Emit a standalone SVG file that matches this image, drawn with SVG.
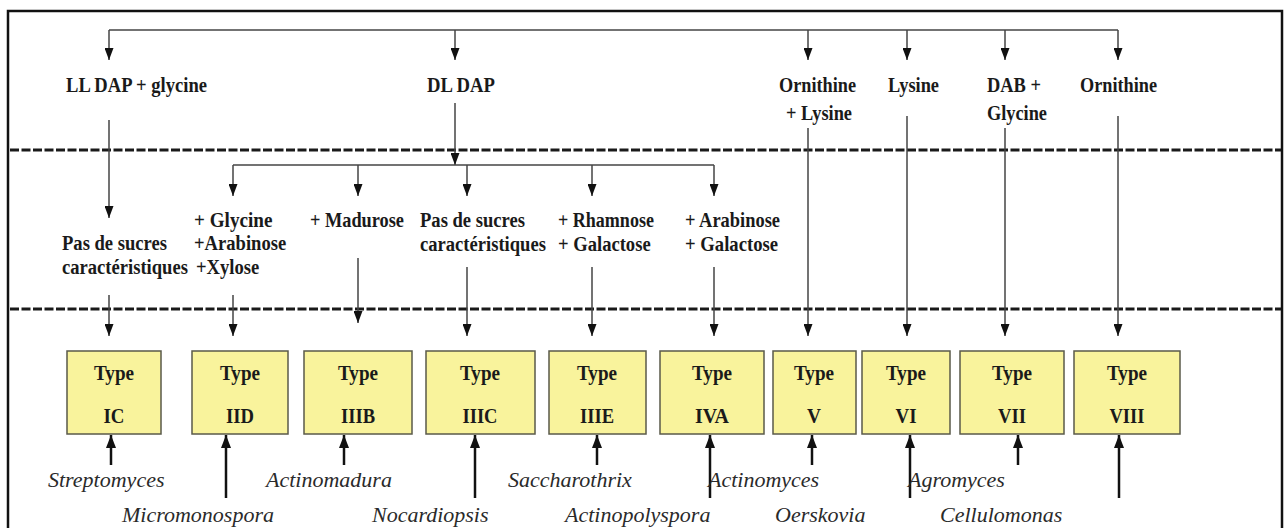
<svg xmlns="http://www.w3.org/2000/svg" width="1288" height="528" viewBox="0 0 1288 528">
  <defs>
    <marker id="ah" viewBox="0 0 10 10" refX="10" refY="5" markerWidth="12" markerHeight="9" markerUnits="userSpaceOnUse" orient="auto" preserveAspectRatio="none">
      <path d="M0,0 L10,5 L0,10 z" fill="#111"/>
    </marker>
    <marker id="ahb" viewBox="0 0 10 10" refX="10" refY="5" markerWidth="13" markerHeight="10" markerUnits="userSpaceOnUse" orient="auto" preserveAspectRatio="none">
      <path d="M0,0 L10,5 L0,10 z" fill="#111"/>
    </marker>
  </defs>
  <style>
    .b { font-family: "Liberation Serif", "Times New Roman", serif; font-weight: bold; font-size: 22px; fill: #1a1a1a; }
    .i { font-family: "Liberation Serif", "Times New Roman", serif; font-style: italic; font-size: 22px; fill: #2a2a2a; }
    .box { fill: #f9f39c; stroke: #5a5a4a; stroke-width: 1.5; }
    .c { fill: none; stroke: #444; stroke-width: 1.5; }
    .ca { fill: none; stroke: #444; stroke-width: 1.5; marker-end: url(#ah); }
    .up { fill: none; stroke: #111; stroke-width: 2.5; marker-end: url(#ahb); }
    .dash { fill: none; stroke: #1a1a1a; stroke-width: 3; stroke-dasharray: 9 2.5; }
  </style>
  <rect width="1288" height="528" fill="#fff"/>
  <rect x="8" y="11" width="1274" height="530" fill="none" stroke="#111" stroke-width="2.5"/>

  <g id="separators">
    <line class="dash" x1="10" y1="150" x2="1281" y2="150"/>
    <line class="dash" x1="10" y1="309" x2="1281" y2="309"/>
  </g>

  <g id="connectors">
    <path class="c" d="M109,30 H1118"/>
    <line class="ca" x1="109" y1="30" x2="109" y2="60"/>
    <line class="ca" x1="455" y1="30" x2="455" y2="60"/>
    <line class="ca" x1="808" y1="30" x2="808" y2="60"/>
    <line class="ca" x1="907" y1="30" x2="907" y2="60"/>
    <line class="ca" x1="1005" y1="30" x2="1005" y2="60"/>
    <line class="ca" x1="1118" y1="30" x2="1118" y2="60"/>

    <line class="ca" x1="109" y1="120" x2="109" y2="218"/>
    <line class="ca" x1="455" y1="103" x2="455" y2="165"/>
    <path class="c" d="M233,165 H714"/>
    <line class="ca" x1="233" y1="165" x2="233" y2="196"/>
    <line class="ca" x1="358" y1="165" x2="358" y2="196"/>
    <line class="ca" x1="467" y1="165" x2="467" y2="196"/>
    <line class="ca" x1="592" y1="165" x2="592" y2="196"/>
    <line class="ca" x1="714" y1="165" x2="714" y2="196"/>

    <line class="ca" x1="109" y1="295" x2="109" y2="336"/>
    <line class="ca" x1="233" y1="295" x2="233" y2="336"/>
    <line class="ca" x1="358" y1="258" x2="358" y2="323"/>
    <line class="ca" x1="467" y1="267" x2="467" y2="336"/>
    <line class="ca" x1="592" y1="267" x2="592" y2="336"/>
    <line class="ca" x1="714" y1="267" x2="714" y2="336"/>
    <line class="ca" x1="808" y1="128" x2="808" y2="336"/>
    <line class="ca" x1="907" y1="116" x2="907" y2="336"/>
    <line class="ca" x1="1005" y1="128" x2="1005" y2="336"/>
    <line class="ca" x1="1118" y1="116" x2="1118" y2="336"/>

    <line class="up" x1="111" y1="465" x2="111" y2="435"/>
    <line class="up" x1="226" y1="498" x2="226" y2="435"/>
    <line class="up" x1="344" y1="465" x2="344" y2="435"/>
    <line class="up" x1="475" y1="498" x2="475" y2="435"/>
    <line class="up" x1="597" y1="465" x2="597" y2="435"/>
    <line class="up" x1="710" y1="498" x2="710" y2="435"/>
    <line class="up" x1="812" y1="465" x2="812" y2="435"/>
    <line class="up" x1="910" y1="498" x2="910" y2="435"/>
    <line class="up" x1="1018" y1="465" x2="1018" y2="435"/>
    <line class="up" x1="1119" y1="498" x2="1119" y2="435"/>
  </g>

  <g id="wall-amino-acids">
    <text class="b" x="66" y="92" textLength="141" lengthAdjust="spacingAndGlyphs">LL DAP + glycine</text>
    <text class="b" x="427" y="92" textLength="68" lengthAdjust="spacingAndGlyphs">DL DAP</text>
    <text class="b" x="779" y="92" textLength="77" lengthAdjust="spacingAndGlyphs">Ornithine</text>
    <text class="b" x="786" y="120" textLength="66" lengthAdjust="spacingAndGlyphs">+ Lysine</text>
    <text class="b" x="888" y="92" textLength="51" lengthAdjust="spacingAndGlyphs">Lysine</text>
    <text class="b" x="987" y="92" textLength="54" lengthAdjust="spacingAndGlyphs">DAB +</text>
    <text class="b" x="987" y="120" textLength="60" lengthAdjust="spacingAndGlyphs">Glycine</text>
    <text class="b" x="1080" y="92" textLength="77" lengthAdjust="spacingAndGlyphs">Ornithine</text>
  </g>

  <g id="sugars">
    <text class="b" transform="translate(62 250) scale(0.845 1)">Pas de sucres</text>
    <text class="b" transform="translate(62 274) scale(0.845 1)">caractéristiques</text>
    <text class="b" transform="translate(194 227) scale(0.87 1)">+ Glycine</text>
    <text class="b" transform="translate(194 250) scale(0.845 1)">+Arabinose</text>
    <text class="b" transform="translate(196 274) scale(0.845 1)">+Xylose</text>
    <text class="b" x="310" y="227" textLength="94" lengthAdjust="spacingAndGlyphs">+ Madurose</text>
    <text class="b" transform="translate(420 227) scale(0.845 1)">Pas de sucres</text>
    <text class="b" transform="translate(420 251) scale(0.845 1)">caractéristiques</text>
    <text class="b" transform="translate(558 227) scale(0.82 1)">+ Rhamnose</text>
    <text class="b" transform="translate(558 251) scale(0.845 1)">+ Galactose</text>
    <text class="b" x="685" y="227" textLength="95" lengthAdjust="spacingAndGlyphs">+ Arabinose</text>
    <text class="b" x="685" y="251" textLength="93" lengthAdjust="spacingAndGlyphs">+ Galactose</text>
  </g>

  <g id="type-IC"><rect class="box" x="67" y="351" width="94" height="83"/>
    <text class="b" x="114" y="380" text-anchor="middle" textLength="40" lengthAdjust="spacingAndGlyphs">Type</text>
    <text class="b" x="114" y="423" text-anchor="middle" textLength="21" lengthAdjust="spacingAndGlyphs">IC</text></g>
  <g id="type-IID"><rect class="box" x="192" y="351" width="96" height="83"/>
    <text class="b" x="240" y="380" text-anchor="middle" textLength="40" lengthAdjust="spacingAndGlyphs">Type</text>
    <text class="b" x="240" y="423" text-anchor="middle" textLength="28" lengthAdjust="spacingAndGlyphs">IID</text></g>
  <g id="type-IIIB"><rect class="box" x="304" y="351" width="108" height="83"/>
    <text class="b" x="358" y="380" text-anchor="middle" textLength="40" lengthAdjust="spacingAndGlyphs">Type</text>
    <text class="b" x="358" y="423" text-anchor="middle" textLength="34" lengthAdjust="spacingAndGlyphs">IIIB</text></g>
  <g id="type-IIIC"><rect class="box" x="426" y="351" width="109" height="83"/>
    <text class="b" x="480" y="380" text-anchor="middle" textLength="40" lengthAdjust="spacingAndGlyphs">Type</text>
    <text class="b" x="480" y="423" text-anchor="middle" textLength="35" lengthAdjust="spacingAndGlyphs">IIIC</text></g>
  <g id="type-IIIE"><rect class="box" x="549" y="351" width="97" height="83"/>
    <text class="b" x="597" y="380" text-anchor="middle" textLength="40" lengthAdjust="spacingAndGlyphs">Type</text>
    <text class="b" x="597" y="423" text-anchor="middle" textLength="34" lengthAdjust="spacingAndGlyphs">IIIE</text></g>
  <g id="type-IVA"><rect class="box" x="660" y="351" width="104" height="83"/>
    <text class="b" x="712" y="380" text-anchor="middle" textLength="40" lengthAdjust="spacingAndGlyphs">Type</text>
    <text class="b" x="712" y="423" text-anchor="middle" textLength="34" lengthAdjust="spacingAndGlyphs">IVA</text></g>
  <g id="type-V"><rect class="box" x="773" y="351" width="83" height="83"/>
    <text class="b" x="814" y="380" text-anchor="middle" textLength="40" lengthAdjust="spacingAndGlyphs">Type</text>
    <text class="b" x="814" y="423" text-anchor="middle" textLength="14" lengthAdjust="spacingAndGlyphs">V</text></g>
  <g id="type-VI"><rect class="box" x="862" y="351" width="88" height="83"/>
    <text class="b" x="906" y="380" text-anchor="middle" textLength="40" lengthAdjust="spacingAndGlyphs">Type</text>
    <text class="b" x="906" y="423" text-anchor="middle" textLength="21" lengthAdjust="spacingAndGlyphs">VI</text></g>
  <g id="type-VII"><rect class="box" x="960" y="351" width="104" height="83"/>
    <text class="b" x="1012" y="380" text-anchor="middle" textLength="40" lengthAdjust="spacingAndGlyphs">Type</text>
    <text class="b" x="1012" y="423" text-anchor="middle" textLength="28" lengthAdjust="spacingAndGlyphs">VII</text></g>
  <g id="type-VIII"><rect class="box" x="1074" y="351" width="106" height="83"/>
    <text class="b" x="1127" y="380" text-anchor="middle" textLength="40" lengthAdjust="spacingAndGlyphs">Type</text>
    <text class="b" x="1127" y="423" text-anchor="middle" textLength="35" lengthAdjust="spacingAndGlyphs">VIII</text></g>

  <g id="genera">
    <text class="i" x="48" y="487">Streptomyces</text>
    <text class="i" x="122" y="522">Micromonospora</text>
    <text class="i" x="266" y="487">Actinomadura</text>
    <text class="i" x="372" y="522">Nocardiopsis</text>
    <text class="i" x="508" y="487">Saccharothrix</text>
    <text class="i" x="565" y="522">Actinopolyspora</text>
    <text class="i" x="708" y="487">Actinomyces</text>
    <text class="i" x="775" y="522">Oerskovia</text>
    <text class="i" x="908" y="487">Agromyces</text>
    <text class="i" x="940" y="522">Cellulomonas</text>
  </g>
</svg>
